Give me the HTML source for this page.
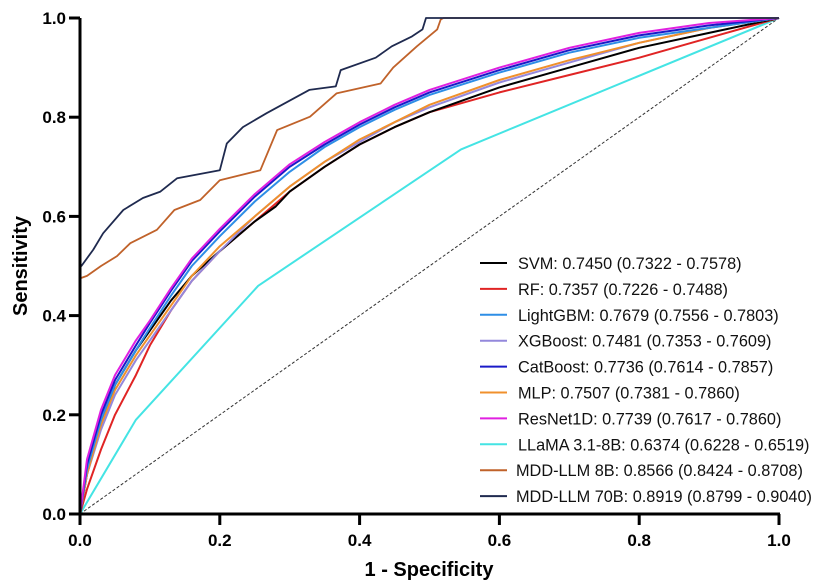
<!DOCTYPE html>
<html><head><meta charset="utf-8"><style>
body{margin:0;background:#fff;}
svg{display:block;font-family:"Liberation Sans",Arial,sans-serif;}
</style></head><body>
<svg id="chart" width="817" height="584" viewBox="0 0 817 584" xmlns="http://www.w3.org/2000/svg"></svg>
<script>
const ticks=[0,0.2,0.4,0.6,0.8,1.0];
const tickLabels=["0.0","0.2","0.4","0.6","0.8","1.0"];
const names=["SVM","RF","LightGBM","XGBoost","CatBoost","MLP","ResNet1D","LLaMA 3.1-8B","MDD-LLM 8B","MDD-LLM 70B"];
const aucs=["0.7450 (0.7322 - 0.7578)","0.7357 (0.7226 - 0.7488)","0.7679 (0.7556 - 0.7803)","0.7481 (0.7353 - 0.7609)","0.7736 (0.7614 - 0.7857)","0.7507 (0.7381 - 0.7860)","0.7739 (0.7617 - 0.7860)","0.6374 (0.6228 - 0.6519)","0.8566 (0.8424 - 0.8708)","0.8919 (0.8799 - 0.9040)"];
const colors=["#000000","#e02424","#2e8ee6","#9488dc","#1a1ac8","#f0902c","#e020e0","#44e4e4","#c0622a","#1f2a4f"];
const svmX=[0,0.01,0.03,0.05,0.08,0.1,0.13,0.16,0.2,0.25,0.28,0.3,0.35,0.4,0.45,0.5,0.6,0.7,0.8,0.9,1];
const svmY=[0,0.08,0.18,0.26,0.33,0.37,0.43,0.48,0.53,0.59,0.62,0.65,0.7,0.745,0.78,0.81,0.86,0.9,0.94,0.97,1];
const rfX=[0,0.01,0.03,0.05,0.08,0.1,0.13,0.16,0.2,0.25,0.3,0.35,0.4,0.45,0.5,0.6,0.7,0.8,0.9,1];
const rfY=[0,0.05,0.13,0.2,0.28,0.34,0.41,0.47,0.53,0.59,0.65,0.7,0.745,0.78,0.81,0.85,0.885,0.92,0.96,1];
const lgbX=[0,0.01,0.03,0.05,0.08,0.1,0.13,0.16,0.2,0.25,0.3,0.35,0.4,0.45,0.5,0.6,0.7,0.8,0.9,1];
const lgbY=[0,0.09,0.19,0.26,0.33,0.375,0.44,0.5,0.56,0.63,0.69,0.74,0.78,0.815,0.845,0.89,0.93,0.96,0.98,1];
const xgbX=[0,0.01,0.03,0.05,0.08,0.1,0.13,0.16,0.2,0.25,0.3,0.35,0.4,0.45,0.5,0.6,0.7,0.8,0.9,1];
const xgbY=[0,0.08,0.17,0.24,0.31,0.35,0.41,0.47,0.53,0.6,0.66,0.71,0.75,0.79,0.82,0.87,0.91,0.95,0.98,1];
const catX=[0,0.01,0.03,0.05,0.08,0.1,0.13,0.16,0.2,0.25,0.3,0.35,0.4,0.45,0.5,0.6,0.7,0.8,0.9,1];
const catY=[0,0.1,0.2,0.27,0.34,0.385,0.45,0.51,0.57,0.64,0.7,0.745,0.785,0.82,0.85,0.895,0.935,0.965,0.985,1];
const mlpX=[0,0.01,0.03,0.05,0.08,0.1,0.13,0.16,0.2,0.25,0.3,0.35,0.4,0.45,0.5,0.6,0.7,0.8,0.9,1];
const mlpY=[0,0.08,0.18,0.25,0.32,0.36,0.42,0.48,0.54,0.6,0.66,0.71,0.755,0.79,0.825,0.875,0.915,0.95,0.98,1];
const resX=[0,0.01,0.03,0.05,0.08,0.1,0.13,0.16,0.2,0.25,0.3,0.35,0.4,0.45,0.5,0.6,0.7,0.8,0.9,1];
const resY=[0,0.11,0.21,0.28,0.35,0.39,0.455,0.515,0.575,0.645,0.705,0.75,0.79,0.825,0.855,0.9,0.94,0.97,0.99,1];
const llamaX=[0,0.08,0.255,0.545,1];
const llamaY=[0,0.19,0.46,0.735,1];
const m8X=[0,0,0.01,0.03,0.053,0.072,0.11,0.135,0.172,0.2,0.258,0.282,0.329,0.367,0.43,0.448,0.482,0.511,0.516,0.52,1];
const m8Y=[0,0.475,0.48,0.5,0.52,0.546,0.573,0.613,0.633,0.673,0.693,0.774,0.801,0.848,0.868,0.9,0.943,0.977,0.997,1,1];
const m70X=[0,0,0.002,0.019,0.033,0.062,0.09,0.115,0.139,0.2,0.21,0.233,0.267,0.328,0.366,0.373,0.423,0.446,0.475,0.49,0.495,1];
const m70Y=[0,0.5,0.5,0.533,0.566,0.613,0.637,0.65,0.677,0.693,0.747,0.78,0.808,0.855,0.862,0.895,0.92,0.943,0.963,0.977,1,1];
const seriesX=[svmX,rfX,lgbX,xgbX,catX,mlpX,resX,llamaX,m8X,m70X];
const seriesY=[svmY,rfY,lgbY,xgbY,catY,mlpY,resY,llamaY,m8Y,m70Y];

const X0=80,X1=779,Y0=514,Y1=18;
const sx=v=>X0+v*(X1-X0), sy=v=>Y0-v*(Y0-Y1);
const svg=document.getElementById('chart');
const NS="http://www.w3.org/2000/svg";
function mk(tag,attrs,parent){const e=document.createElementNS(NS,tag);for(const k in attrs)e.setAttribute(k,attrs[k]);(parent||svg).appendChild(e);return e;}

let d=mk('line',{x1:sx(0),y1:sy(0),x2:sx(1),y2:sy(1),stroke:'#333','stroke-width':1,'stroke-dasharray':'3,2'});



const order=[7,1,0,3,5,2,4,6,8,9];
order.forEach(i=>{
  const pts=seriesX[i].map((x,j)=>sx(x).toFixed(1)+','+sy(seriesY[i][j]).toFixed(1)).join(' ');
  const p=mk('polyline',{points:pts,fill:'none',stroke:colors[i],'stroke-width':i>=8?1.8:2,'stroke-linejoin':'round'});
  
  
});

let ax=mk('line',{x1:X0,y1:Y0,x2:X1+1,y2:Y0,stroke:'#000','stroke-width':3});


let ay=mk('line',{x1:X0,y1:Y0+1,x2:X0,y2:Y1,stroke:'#000','stroke-width':3});


ticks.forEach((t,i)=>{
  mk('line',{x1:sx(t),y1:Y0,x2:sx(t),y2:Y0+11,stroke:'#000','stroke-width':3});
  const tx=mk('text',{x:sx(t),y:Y0+32,'text-anchor':'middle','font-size':17,'font-weight':'bold'});
  tx.textContent=tickLabels[i];
  
  
  mk('line',{x1:X0-11,y1:sy(t),x2:X0,y2:sy(t),stroke:'#000','stroke-width':3});
  const ty=mk('text',{x:X0-14,y:sy(t)+6,'text-anchor':'end','font-size':17,'font-weight':'bold'});
  ty.textContent=tickLabels[i];
  
  
});
let xt=mk('text',{x:429,y:576,'text-anchor':'middle','font-size':20,'font-weight':'bold'});
xt.textContent='1 - Specificity';


let yt=mk('text',{x:0,y:0,'text-anchor':'middle','font-size':20,'font-weight':'bold',transform:'translate(27,266) rotate(-90)'});
yt.textContent='Sensitivity';



const lg=mk('g',{});


names.forEach((n,i)=>{
  const y=263+i*25.9;
  const g=mk('g',{},lg);
  
  
  mk('line',{x1:480,y1:y,x2:507,y2:y,stroke:colors[i],'stroke-width':2},g);
  const t=mk('text',{x:i>=8?516:518,y:y+6,'font-size':16.3,fill:'#111'},g);
  t.textContent=n+': '+aucs[i];
});
</script>
</body></html>
